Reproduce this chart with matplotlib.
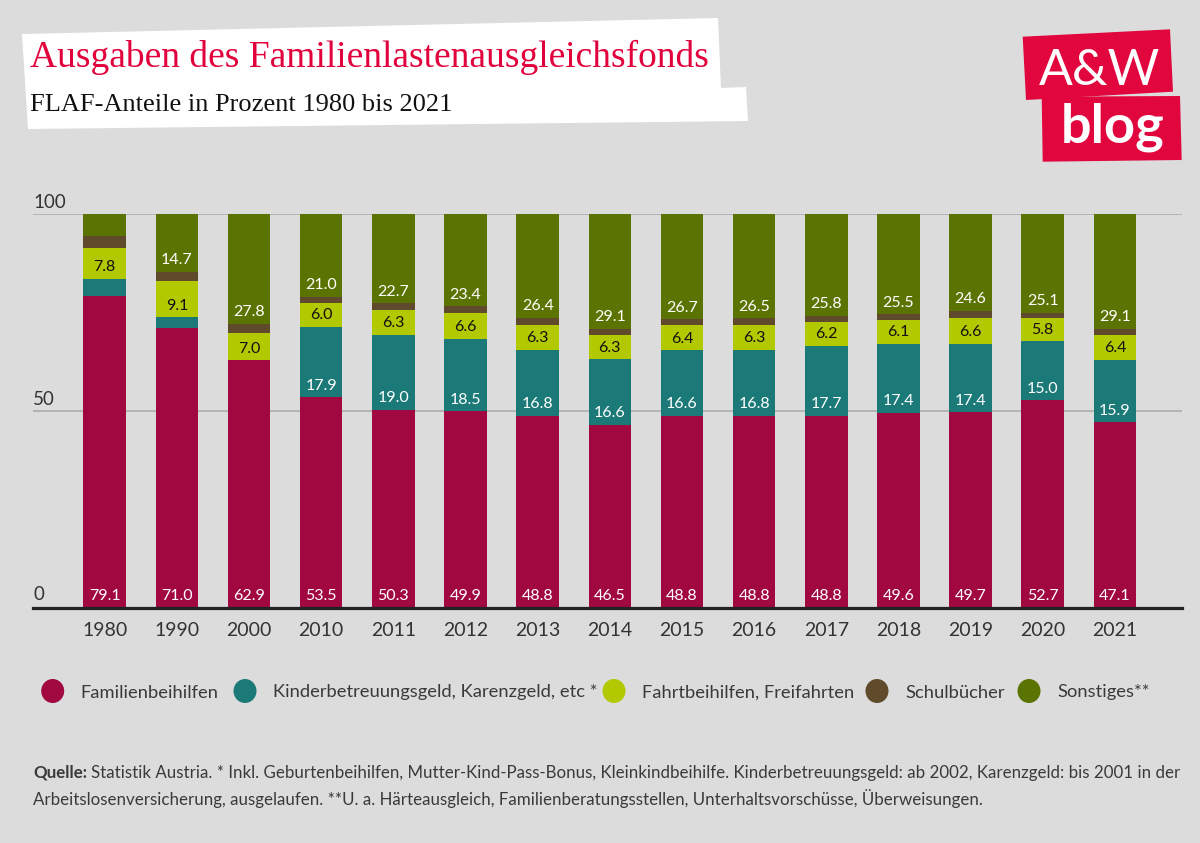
import matplotlib
matplotlib.use("Agg")
import matplotlib.pyplot as plt
from matplotlib.patches import Polygon, Ellipse

# ---------------- data ----------------
years = ['1980', '1990', '2000', '2010', '2011', '2012', '2013', '2014',
         '2015', '2016', '2017', '2018', '2019', '2020', '2021']
familienbeihilfen = [79.1, 71.0, 62.9, 53.5, 50.3, 49.9, 48.8, 46.5, 48.8, 48.8, 48.8, 49.6, 49.7, 52.7, 47.1]
kinderbetreuung = [4.5, 2.8, 0.0, 17.9, 19.0, 18.5, 16.8, 16.6, 16.6, 16.8, 17.7, 17.4, 17.4, 15.0, 15.9]
fahrtbeihilfen = [7.8, 9.1, 7.0, 6.0, 6.3, 6.6, 6.3, 6.3, 6.4, 6.3, 6.2, 6.1, 6.6, 5.8, 6.4]
schulbuecher = [3.0, 2.4, 2.3, 1.6, 1.7, 1.6, 1.7, 1.5, 1.5, 1.6, 1.5, 1.4, 1.7, 1.4, 1.5]
sonstiges = [5.6, 14.7, 27.8, 21.0, 22.7, 23.4, 26.4, 29.1, 26.7, 26.5, 25.8, 25.5, 24.6, 25.1, 29.1]

series_names = ['Familienbeihilfen', 'Kinderbetreuungsgeld, Karenzgeld, etc *',
                'Fahrtbeihilfen, Freifahrten', 'Schulbücher', 'Sonstiges**']
y_ticks = [0, 50, 100]

# ---------------- style ----------------
BG = '#DCDCDC'
colors = ['#A1083F', '#1B7A78', '#B2C900', '#5F4A2B', '#5B7300']
label_colors = ['white', 'white', '#111111', None, 'white']
FONT = 'Lato'
TXT = '#3A3A3A'

W, H = 1200, 843
fig = plt.figure(figsize=(W / 100, H / 100), dpi=100, facecolor=BG)


def fx(x):
    return x / W


def fy(y):
    return 1 - y / H


def fp(pts):
    return [(fx(x), fy(y)) for x, y in pts]


# title white box
fig.patches.append(Polygon(fp([(22, 34), (718, 18), (721, 88), (746, 87), (748, 121), (28, 129)]),
                           closed=True, transform=fig.transFigure, facecolor='white',
                           edgecolor='none', zorder=0))
fig.text(fx(30), fy(67), 'Ausgaben des Familienlastenausgleichsfonds', family='Liberation Serif',
         fontsize=27, color='#E2003C', va='baseline', ha='left')
fig.text(fx(30), fy(111), 'FLAF-Anteile in Prozent 1980 bis 2021', family='Liberation Serif',
         fontsize=19, color='#111111', va='baseline', ha='left')

# logo
logo_red = '#E2063F'
fig.patches.append(Polygon(fp([(1022.7, 36.7), (1170, 29.3), (1173, 91.7), (1026, 100)]),
                           closed=True, transform=fig.transFigure, facecolor=logo_red, edgecolor='none'))
fig.patches.append(Polygon(fp([(1041.7, 96.7), (1180, 96), (1181.7, 160), (1042.7, 161.7)]),
                           closed=True, transform=fig.transFigure, facecolor=logo_red, edgecolor='none'))
fig.text(fx(1099), fy(85), 'A&W', family=FONT, fontsize=36, color='white', ha='center', va='baseline',
         fontweight='normal')
fig.text(fx(1113), fy(143), 'blog', family=FONT, fontsize=39, color='white', ha='center', va='baseline',
         fontweight='bold')

# ---------------- chart ----------------
ax = fig.add_axes([fx(33), fy(608), fx(1182) - fx(33), fy(214) - fy(608)])
ax.set_facecolor('none')
x = list(range(len(years)))
ax.set_xlim(-0.994, 14.93)
ax.set_ylim(0, 100)

for yv in y_ticks[1:]:
    ax.axhline(yv, color='#A9A9A9', lw=1.1, zorder=0)
    ax.annotate(str(yv), xy=(0, yv), xycoords=('axes fraction', 'data'), xytext=(0, 8.5),
                textcoords='offset points', ha='left', va='center', fontsize=13.5,
                family=FONT, color='#333333')
ax.annotate('0', xy=(0, 0), xycoords=('axes fraction', 'data'), xytext=(0, 9.5),
            textcoords='offset points', ha='left', va='center', fontsize=13.5,
            family=FONT, color='#333333')

series = [familienbeihilfen, kinderbetreuung, fahrtbeihilfen, schulbuecher, sonstiges]
bottom = [0.0] * len(years)
bar_w = 0.59
for s_idx, (vals, col) in enumerate(zip(series, colors)):
    ax.bar(x, vals, width=bar_w, bottom=bottom, color=col, edgecolor='none', zorder=2)
    if label_colors[s_idx] is not None:
        for i, (v, b) in enumerate(zip(vals, bottom)):
            if v >= 5.7:
                ax.annotate(f'{v:.1f}', xy=(i, b), xytext=(0, 8.3), textcoords='offset points',
                            ha='center', va='center', fontsize=11.5, family=FONT,
                            color=label_colors[s_idx], zorder=3)
    bottom = [b + v for b, v in zip(bottom, vals)]

ax.axhline(0, color='#222222', lw=2.3, zorder=4, clip_on=False)
ax.set_xticks(x)
ax.set_xticklabels(years, fontsize=14, family=FONT, color='#333333')
ax.tick_params(axis='x', length=0, pad=10)
ax.set_yticks([])
for sp in ax.spines.values():
    sp.set_visible(False)

# ---------------- legend ----------------
leg_circle_x = [52.7, 245, 614, 877, 1029]
leg_text_x = [80, 273, 642, 905, 1057]
leg_y = 691
for cx, tx, col, name in zip(leg_circle_x, leg_text_x, colors, series_names):
    fig.patches.append(Ellipse((fx(cx), fy(leg_y)), width=23 / W, height=24 / H,
                               transform=fig.transFigure, facecolor=col, edgecolor='none'))
    fig.text(fx(tx), fy(leg_y), name, family=FONT, fontsize=13.2, color=TXT, ha='left',
             va='center_baseline')

# ---------------- footer ----------------
FS = 12.2
q = fig.text(fx(33), fy(778), 'Quelle:', family=FONT, fontsize=FS, color=TXT, ha='left',
             va='baseline', fontweight='bold')
fig.canvas.draw()
bb = q.get_window_extent()
fig.text(bb.x1 / W + fx(4), fy(778),
         'Statistik Austria. * Inkl. Geburtenbeihilfen, Mutter-Kind-Pass-Bonus, Kleinkindbeihilfe. '
         'Kinderbetreuungsgeld: ab 2002, Karenzgeld: bis 2001 in der',
         family=FONT, fontsize=FS, color=TXT, ha='left', va='baseline')
fig.text(fx(33), fy(805),
         'Arbeitslosenversicherung, ausgelaufen. **U. a. Härteausgleich, Familienberatungsstellen, '
         'Unterhaltsvorschüsse, Überweisungen.',
         family=FONT, fontsize=FS, color=TXT, ha='left', va='baseline')

fig.savefig('out.png', dpi=100, facecolor=BG)
